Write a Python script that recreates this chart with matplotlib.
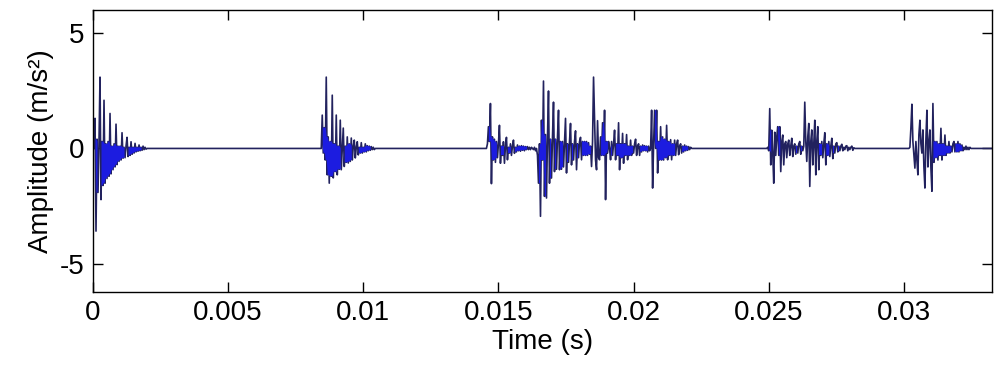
import numpy as np
import matplotlib
matplotlib.use("Agg")
import matplotlib.pyplot as plt

# ---------------- data ----------------
fs = 27000.0            # samples per second
n_samples = 899         # record length (0 .. 0.0333 s)

# each burst: start sample index and the sample values (m/s^2)
burst1_start = 2
burst1 = [1.3, -3.57, 0.4, -1.9, 0.3, 3.08, -2.21, 0.3, -1.6, 2.08, -1.5, 0.2,
          -1.3, 0.3, -1.2, 1.51, -1.1, 0.1, -0.92, 0.2, -0.8, 1.05, -0.7, 0.1,
          -0.56, 0.1, -0.5, 0.68, -0.42, 0.05, -0.4, 0.1, 0.48, -0.35, 0.05,
          -0.3, 0.29, -0.25, 0.05, -0.2, 0.22, -0.15, 0.05, -0.12, 0.15, -0.1,
          0.05, -0.08, 0.1, -0.05, 0.05, -0.03]

burst2_start = 229
burst2 = [1.44, -0.2, 0.9, -0.5, 3.08, -1.14, 0.5, -1.5, 0.3, -1.2, 2.3, -1.27,
          0.2, -1.0, 1.44, -1.14, 0.1, -0.9, 1.22, -0.92, 0.0, 0.88, -0.78, 0.1,
          -0.6, 0.5, -0.63, 0.2, -0.56, 0.45, -0.5, 0.1, 0.36, -0.41, 0.05, 0.29,
          -0.28, 0.05, -0.2, 0.25, -0.2, 0.05, -0.15, 0.2, -0.15, 0.12, -0.1,
          0.1, -0.08, 0.08, -0.05, 0.05, -0.05]

burst3_start = 394
burst3 = [0.2, 0.94, 0.3, 1.94, -1.52, 0.5, -0.5, 0.4, -0.6, 0.3, -0.4, 0.2,
          1.0, -0.64, 0.1, -0.3, 0.29, -0.64, 0.1, 0.48, -0.49, 0.05, -0.2, 0.2,
          -0.3, 0.1, 0.36, -0.21, 0.05, -0.15, 0.15, -0.1, 0.1, -0.12, 0.12,
          -0.08, 0.1, -0.1, 0.08, -0.05, 0.08, -0.05, 0.05, -0.05, 0.05, 0.0,
          -0.05]

burst4_start = 441
burst4 = [0.05, -0.1, 0.0, -0.3, -1.5, 0.2, -2.93, 1.22, -0.5, 2.91, -2.07,
          0.6, -2.14, 0.5, 2.48, -1.5, 0.4, -1.28, 0.5, 2.0, -1.0, 0.4, -0.9,
          0.5, 1.65, -0.92, 0.3, -0.9, 0.3, -0.8, 0.2, 1.3, -1.06, 0.2, -0.6,
          0.3, 1.08, -0.71, 0.2, -0.5, 0.3, 0.76, -0.92, 0.2, -0.4, 0.3, 0.48,
          -0.49, 0.3, -0.3, 0.3, -0.3, 0.3, -0.3, 0.25, -0.25, 0.1]

burst5_start = 498
burst5 = [-0.78, 0.3, 3.08, 1.2, -0.5, -0.92, 1.2, -0.4, -0.49, 0.5, -0.3,
          1.11, -0.3, 1.65, -2.21, 0.3, -0.2, 0.3, 0.0, -0.49, 0.3, -0.3, 0.2,
          0.79, -0.49, 0.2, -0.3, 1.11, -0.92, 0.2, -0.4, 0.65, -0.64, 0.2,
          -0.3, 0.6, -0.49, 0.1, -0.3, 0.36, -0.3, 0.1, -0.2, 0.2, 0.4, -0.3,
          0.1, 0.2, -0.3, 0.1, -0.15, 0.15, -0.1, 0.12, -0.1, 0.1, -0.15, 0.1,
          -0.1, 0.0]

burst6_start = 558
burst6 = [1.65, -1.71, 0.2, 1.65, 0.0, 1.65, -1.06, 0.3, -0.5, 0.94, -0.5,
          0.5, -0.5, 0.4, -0.4, 1.0, -0.49, 0.3, -0.3, 0.38, -0.49, 0.2, -0.3,
          0.36, -0.3, 0.2, 0.36, -0.27, 0.1, 0.2, -0.2, 0.1, -0.15, 0.15, -0.1,
          0.1, -0.08, 0.08, -0.05, 0.05]

burst7_start = 674
burst7 = [0.05, -0.1, 1.72, -0.71, 0.79, -0.2, -1.5, 0.7, -0.3, 0.5, 0.94,
          -0.3, 0.94, -1.0, 0.3, 0.58, -0.71, 0.2, 0.3, -0.4, 0.2, 0.36, -0.3,
          0.1, 0.44, -0.35, 0.1, 0.2, -0.25, 0.1, -0.2, 0.2, 0.3, -0.25, 0.1,
          -0.1, 0.1, 2.0, 0.3, -0.56, 0.5, 1.08, -1.64, 0.3, 0.8, -0.71, 0.2,
          1.22, -1.14, 0.3, 0.94, -0.92, 0.2, -0.3, 0.3, -0.4, 0.2, 0.68, -0.71,
          0.2, -0.3, 0.3, -0.35, 0.1, 0.44, -0.44, 0.1, -0.2, 0.2, 0.25, -0.15,
          0.1, -0.1, 0.1, 0.18, -0.1, 0.05, -0.05, 0.1, 0.12, -0.1, 0.05, -0.05,
          0.05, 0.1, -0.08, 0.03]

burst8_start = 816
burst8 = [0.05, 0.87, 1.91, 0.3, -0.3, -0.85, 0.3, -0.5, -1.14, 0.6, 1.22,
          0.2, -0.2, 0.8, -0.8, -1.71, 0.4, 1.65, -0.8, 0.3, 0.8, -0.85, -1.85,
          1.94, -0.6, 0.3, -0.4, 0.3, -0.5, 0.2, -0.3, 0.87, -0.5, 0.2, -0.3,
          0.58, -0.3, 0.1, -0.2, 0.3, -0.2, 0.1, -0.15, 0.2, 0.3, -0.15, 0.2,
          -0.15, 0.3, -0.15, 0.2, -0.1, 0.15, -0.1, 0.05, -0.05, 0.1, -0.05,
          0.05, -0.05, 0.05, 0.0]

bursts = [(burst1_start, burst1), (burst2_start, burst2), (burst3_start, burst3),
          (burst4_start, burst4), (burst5_start, burst5), (burst6_start, burst6),
          (burst7_start, burst7), (burst8_start, burst8)]

x_ticks = [0, 0.005, 0.01, 0.015, 0.02, 0.025, 0.03]
x_ticklabels = ["0", "0.005", "0.01", "0.015", "0.02", "0.025", "0.03"]
y_ticks = [-5, 0, 5]
y_ticklabels = ["-5", "0", "5"]

# ---------------- build signal ----------------
t = np.arange(n_samples) / fs
sig = np.zeros(n_samples)
for start, vals in bursts:
    vals = np.asarray(vals, dtype=float)
    sig[start:start + len(vals)] = vals

# ---------------- figure ----------------
plt.rcParams['font.family'] = ['Liberation Sans', 'DejaVu Sans']
plt.rcParams['axes.unicode_minus'] = False

fig = plt.figure(figsize=(10.0, 3.67), dpi=100)
ax = fig.add_axes([0.093, 0.2044, 0.899, 0.7696])

line_col = '#22225e'
fill_col = '#1c1ce0'

ax.plot(t, sig, color=line_col, lw=1.2, zorder=2)

# dense (overlapping) part of the trace, rendered in bright blue
lo = np.minimum(sig[:-1], sig[1:])
hi = np.maximum(sig[:-1], sig[1:])
core_lo = np.maximum(np.maximum(lo[:-2], lo[1:-1]), lo[2:])
core_hi = np.minimum(np.minimum(hi[:-2], hi[1:-1]), hi[2:])
tc = t[1:-2] + 0.5 / fs
mask = (core_hi - core_lo) > 0.12
ax.fill_between(tc, core_lo, core_hi, where=mask, color=fill_col, lw=0,
                zorder=3, interpolate=False)

ax.set_xlim(0, 0.03326)
ax.set_ylim(-6.2, 6.0)
ax.set_xticks(x_ticks)
ax.set_xticklabels(x_ticklabels)
ax.set_yticks(y_ticks)
ax.set_yticklabels(y_ticklabels)

ax.tick_params(direction='in', length=7, width=1.0, top=True, right=True,
               labelsize=20, colors='black')
ax.tick_params(axis='x', pad=6)
ax.tick_params(axis='y', pad=6)
for s in ax.spines.values():
    s.set_linewidth(1.0)
    s.set_color('black')

ax.set_xlabel('Time (s)', fontsize=20, labelpad=2)
ax.set_ylabel('Amplitude (m/s²)', fontsize=20, labelpad=4)

fig.savefig('out.png', dpi=100)
